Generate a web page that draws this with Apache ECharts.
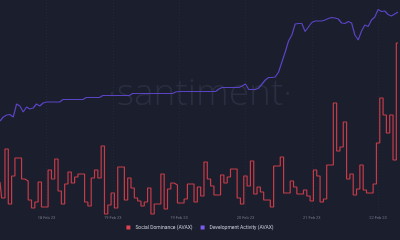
<!DOCTYPE html>
<html>
<head>
<meta charset="utf-8">
<style>
html,body{margin:0;padding:0;background:#1b1e2d;}
#c{width:400px;height:240px;}
</style>
<script src="https://cdn.jsdelivr.net/npm/echarts@6/dist/echarts.min.js"></script>
</head>
<body>
<div id="c"></div>
<script>
// hourly-ish points, 121 samples
const tickIndex = [14, 34, 54, 74, 94, 114];
const tickLabels = ['18 Feb 23', '19 Feb 23', '19 Feb 23', '20 Feb 23', '21 Feb 23', '22 Feb 23'];

const socialDominance = [
  0.34, 0.18, 0.67, 0.12, 0.40, 0.58, 0.58, 0.37, 0.35, 0.16,
  0.08, 0.14, 0.34, 0.09, 0.09, 0.46, 0.37, 0.57, 0.25, 0.12,
  0.32, 0.44, 0.33, 0.39, 0.42, 0.42, 0.14, 0.10, 0.38, 0.46,
  0.38, 0.70, 0.02, 0.11, 0.23, 0.08, 0.49, 0.49, 0.16, 0.38,
  0.28, 0.18, 0.15, 0.10, 0.14, 0.28, 0.02, 0.12, 0.12, 0.42,
  0.07, 0.27, 0.33, 0.31, 0.13, 0.13, 0.17, 0.32, 0.32, 0.14,
  0.29, 0.20, 0.54, 0.37, 0.30, 0.21, 0.21, 0.41, 0.33, 0.39,
  0.47, 0.47, 0.18, 0.12, 0.40, 0.30, 0.55, 0.22, 0.29, 0.24,
  0.16, 0.16, 0.09, 0.50, 0.50, 0.59, 0.23, 0.23, 0.35, 0.29,
  0.22, 0.22, 0.26, 0.20, 0.15, 0.46, 0.40, 0.14, 0.17, 0.51,
  0.51, 1.13, 0.65, 0.69, 0.94, 0.37, 0.42, 0.21, 0.27, 0.51,
  0.26, 0.23, 0.23, 0.32, 0.73, 1.18, 1.01, 0.83, 1.01, 0.56,
  1.73
];

const devActivity = [
  19.0, 19.8, 20.2, 20.3, 19.8, 22.4, 22.0, 20.8, 21.8, 21.4,
  21.6, 22.4, 22.0, 22.6, 22.8, 22.8, 22.8, 22.8, 22.8, 23.3,
  23.3, 23.3, 23.3, 23.3, 23.3, 23.3, 23.7, 23.7, 23.7, 23.7,
  23.7, 24.1, 24.1, 24.1, 24.1, 24.1, 24.1, 24.1, 24.1, 24.1,
  24.5, 24.5, 24.5, 24.5, 24.5, 24.5, 24.5, 24.5, 24.5, 24.5,
  24.5, 24.5, 24.5, 24.8, 24.9, 24.9, 24.9, 24.9, 24.9, 24.9,
  24.9, 24.9, 24.9, 24.9, 24.9, 24.9, 25.4, 25.7, 25.7, 25.7,
  25.7, 25.7, 25.7, 26.0, 26.4, 25.3, 25.3, 25.3, 25.6, 26.4,
  27.2, 27.7, 27.7, 27.8, 28.8, 30.8, 32.8, 35.0, 36.2, 38.4,
  38.5, 38.5, 36.9, 37.8, 38.7, 39.0, 39.0, 39.0, 39.2, 39.5,
  39.7, 39.6, 39.4, 38.6, 38.5, 38.9, 38.6, 36.2, 35.2, 37.0,
  38.2, 37.9, 39.2, 39.8, 41.3, 40.9, 41.0, 40.3, 40.0, 40.4,
  40.8
];

const categories = socialDominance.map((_, i) => i);

const chart = echarts.init(document.getElementById('c'), null, {renderer: 'canvas'});
chart.setOption({
  backgroundColor: '#1b1e2d',
  animation: false,
  graphic: [{
    type: 'text',
    left: 'center',
    top: 76,
    silent: true,
    z: 0,
    style: {
      text: '·santiment·',
      fill: '#2a2e40',
      font: '300 37px "Open Sans", "Noto Sans", sans-serif'
    }
  }],
  grid: {left: 0, right: 2, top: 0, bottom: 24},
  legend: {
    bottom: 5,
    left: 'center',
    icon: 'rect',
    itemWidth: 4,
    itemHeight: 4,
    itemGap: 8,
    textStyle: {color: '#c4c7d2', fontSize: 5, fontFamily: 'Roboto, sans-serif'},
    data: ['Social Dominance (AVAX)', 'Development Activity (AVAX)']
  },
  xAxis: {
    type: 'category',
    data: categories,
    boundaryGap: false,
    axisLine: {show: false},
    axisTick: {show: false},
    axisLabel: {
      interval: (idx) => tickIndex.indexOf(idx) >= 0,
      formatter: (v, idx) => {
        const k = tickIndex.indexOf(idx);
        return k >= 0 ? tickLabels[k] : '';
      },
      color: '#737789',
      fontSize: 4,
      margin: 0,
      fontFamily: 'Roboto, sans-serif'
    },
    splitLine: {
      show: true,
      interval: (idx) => tickIndex.indexOf(idx) >= 0,
      lineStyle: {color: '#23273a', type: [1, 2], width: 1}
    }
  },
  yAxis: [{
    type: 'value', min: 0, max: 2.16, show: false,
    splitLine: {show: false}
  }, {
    type: 'value', min: 0, max: 43.2, show: false,
    splitLine: {show: false}
  }],
  series: [{
    name: 'Social Dominance (AVAX)',
    type: 'line',
    yAxisIndex: 0,
    step: 'middle',
    data: socialDominance,
    showSymbol: false,
    color: '#e0424f',
    lineStyle: {width: 1.2, color: '#c63c49'},
    z: 3
  }, {
    name: 'Development Activity (AVAX)',
    type: 'line',
    yAxisIndex: 1,
    data: devActivity,
    showSymbol: false,
    color: '#7b5cf0',
    lineStyle: {width: 1.2, color: '#5a44c4'},
    z: 2
  }]
});
</script>
</body>
</html>
